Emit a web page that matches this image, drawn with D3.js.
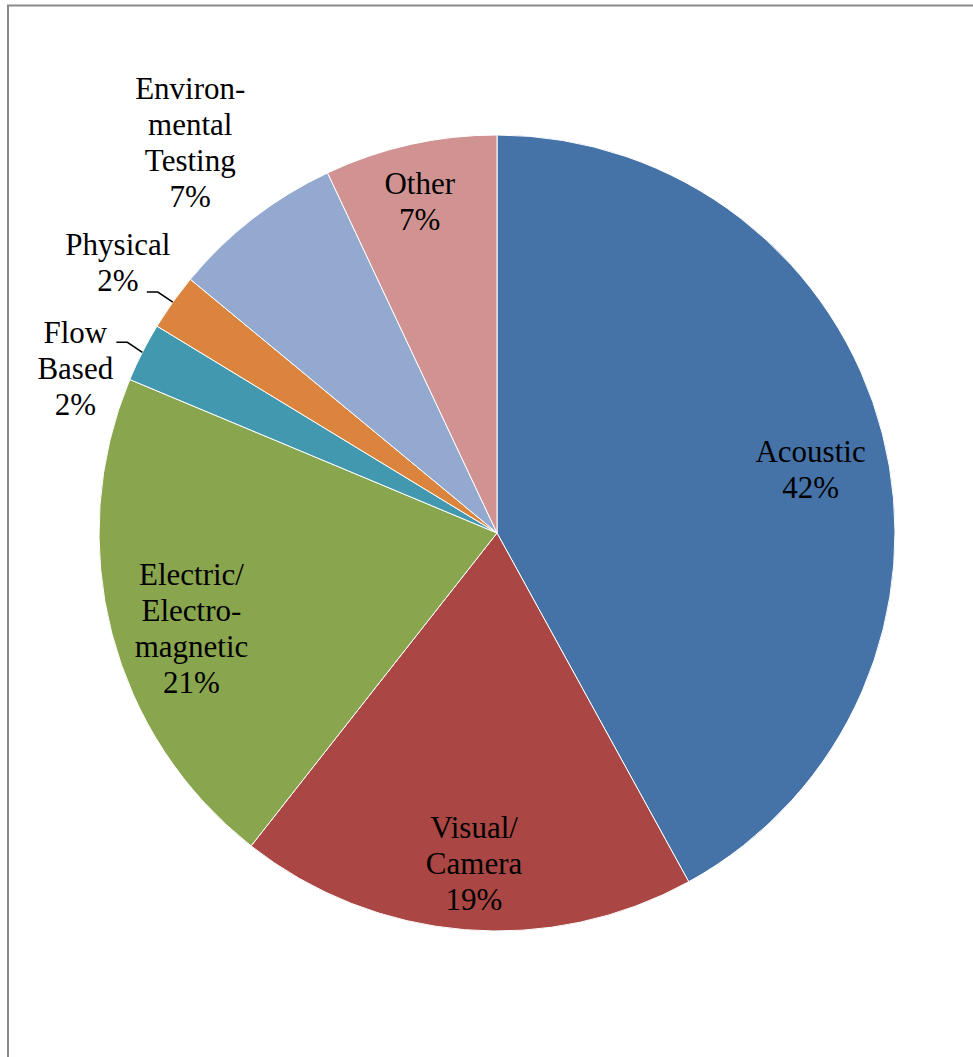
<!DOCTYPE html>
<html lang='en'>
    <head>
        <meta charset="utf-8">
        <title>Detection methods pie</title>
        <script src='https://d3js.org/d3.v7.min.js'></script>
        <style>
            body { margin: 0; background: #fff; }
        </style>
    </head>
    <body>
        <script type='text/javascript'>
            var w = 973;
            var h = 1057;

            // data
            var categories = ['Acoustic', 'Visual/Camera', 'Electric/Electromagnetic', 'Flow Based', 'Physical', 'Environmental Testing', 'Other'];
            var values = [42.0, 18.6, 20.7, 2.4, 2.3, 7.0, 7.0];
            var labelLines = [
                ['Acoustic'],
                ['Visual/', 'Camera'],
                ['Electric/', 'Electro-', 'magnetic'],
                ['Flow', 'Based'],
                ['Physical'],
                ['Environ-', 'mental', 'Testing'],
                ['Other']
            ];
            var colors = ['#4572A7', '#AA4643', '#89A54E', '#4198AF', '#DB843D', '#93A9CF', '#D19392'];

            // label placement: radius factor and angle shift (deg) from slice middle
            var labelRadius = [0.804, 0.832, 0.804, 1.138, 1.171, 1.249, 0.857];
            var labelShift = [2.9, -0.7, -2.7, -5.6, 0.1, -0.3, -0.5];
            var hasLeader = [false, false, false, true, true, false, false];

            var cx = 497, cy = 533, R = 398;
            var lineGap = 36;
            var total = d3.sum(values);

            var svg = d3.select('body')
                        .append('svg')
                        .attr('width', w)
                        .attr('height', h);

            // frame
            svg.append('rect')
                .attr('x', 8)
                .attr('y', 5.5)
                .attr('width', 1200)
                .attr('height', 1200)
                .attr('fill', 'none')
                .attr('stroke', '#8a8a8a')
                .attr('stroke-width', 2);

            var pie = d3.pie().sort(null).value(function(d){ return d; });
            var arc = d3.arc().innerRadius(0).outerRadius(R);
            var arcs = pie(values);

            var g = svg.append('g').attr('transform', 'translate(' + cx + ',' + cy + ')');

            g.selectAll('path')
                .data(arcs)
                .enter()
                .append('path')
                .attr('d', arc)
                .attr('fill', function(d, i){ return colors[i]; })
                .attr('stroke', '#fff')
                .attr('stroke-width', 1);

            function polar(angle, r){
                return [r * Math.sin(angle), -r * Math.cos(angle)];
            }

            // leader lines
            arcs.forEach(function(d, i){
                if (!hasLeader[i]) return;
                var mid = (d.startAngle + d.endAngle) / 2;
                var p0 = polar(mid, R);
                var p1 = [p0[0] - 15, p0[1] - 10];
                var p2 = [p1[0] - 11, p1[1]];
                g.append('polyline')
                    .attr('points', [p0, p1, p2].map(function(p){ return p.join(','); }).join(' '))
                    .attr('fill', 'none')
                    .attr('stroke', '#000')
                    .attr('stroke-width', 1.5);
            });

            // labels
            arcs.forEach(function(d, i){
                var mid = (d.startAngle + d.endAngle) / 2 + labelShift[i] * Math.PI / 180;
                var p = polar(mid, R * labelRadius[i]);
                var lines = labelLines[i].concat([Math.round(values[i] / total * 100) + '%']);
                var top = p[1] - (lines.length - 1) * lineGap / 2;
                var t = g.append('text')
                    .attr('text-anchor', 'middle')
                    .attr('font-family', '"Liberation Serif", "Times New Roman", serif')
                    .attr('font-size', '31px')
                    .attr('fill', '#000');
                lines.forEach(function(s, j){
                    t.append('tspan')
                        .attr('x', p[0])
                        .attr('y', top + j * lineGap + 11)
                        .text(s);
                });
            });
        </script>
    </body>
</html>
